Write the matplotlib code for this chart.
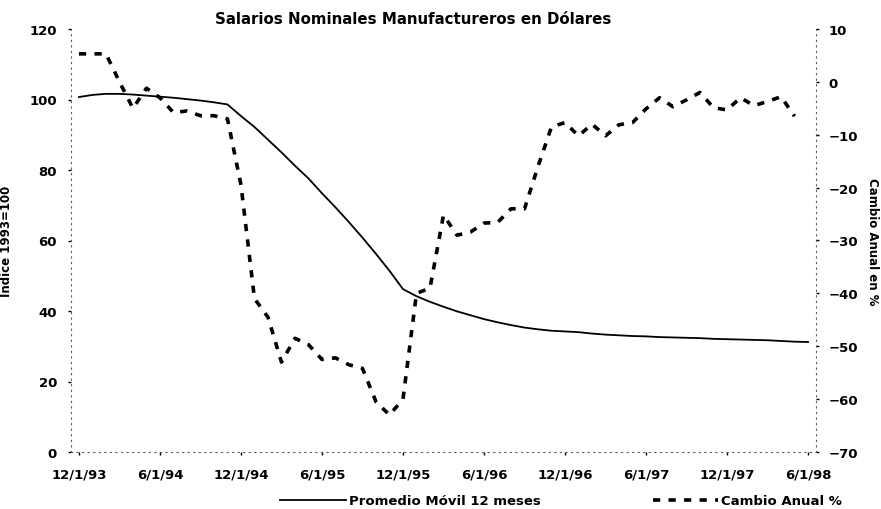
import matplotlib
matplotlib.use("Agg")
import matplotlib.pyplot as plt
import numpy as np

# etiquetas del eje x (cada 6 meses, dic-93 a jun-98)
etiquetas = ['12/1/93', '6/1/94', '12/1/94', '6/1/95', '12/1/95',
             '6/1/96', '12/1/96', '6/1/97', '12/1/97', '6/1/98']

# Indice 1993=100, promedio movil 12 meses (mensual, dic-93 .. jun-98)
indice = [100.7, 101.3, 101.6, 101.6, 101.4, 101.1, 100.8, 100.5, 100.1, 99.7,
          99.2, 98.6, 95.3, 92.2, 88.6, 85.0, 81.2, 77.6, 73.4, 69.4,
          65.2, 60.8, 56.2, 51.4, 46.2, 44.2, 42.6, 41.2, 39.9, 38.8,
          37.7, 36.8, 36.0, 35.3, 34.8, 34.4, 34.2, 34.0, 33.6, 33.3,
          33.1, 32.9, 32.8, 32.6, 32.5, 32.4, 32.3, 32.1, 32.0, 31.9,
          31.8, 31.7, 31.5, 31.3, 31.2]

# Cambio anual % (mensual, dic-93 .. may-98)
cambio = [5.3, 5.3, 5.3, 0.0, -5.0, -1.2, -3.0, -5.8, -5.5, -6.4,
          -6.4, -7.0, -19.5, -41.0, -44.5, -53.0, -48.5, -49.7, -52.5, -52.2,
          -53.5, -54.2, -60.5, -63.0, -60.0, -40.0, -39.0, -25.2, -29.0, -28.4,
          -26.7, -26.6, -24.0, -24.0, -16.0, -8.5, -7.7, -10.2, -8.0, -10.2,
          -8.1, -7.7, -5.1, -3.0, -4.7, -3.4, -2.0, -4.9, -5.3, -3.0,
          -4.5, -3.7, -2.8, -6.5]

plt.rcParams['font.family'] = ['DejaVu Sans']
plt.rcParams['font.weight'] = 'bold'

fig = plt.figure(figsize=(8.81, 5.10), dpi=100)
ax = fig.add_axes([71 / 881, 1 - 453 / 510, 745 / 881, 423 / 510])
ax2 = ax.twinx()

x1 = np.arange(len(indice))
x2 = np.arange(len(cambio))

l1, = ax.plot(x1, indice, color='black', lw=1.3, label='Promedio Móvil 12 meses')
l2, = ax2.plot(x2, cambio, color='black', lw=2.6, dashes=(2.0, 2.3),
               label='Cambio Anual %')

ax.set_xlim(-0.59, 54.59)
ax.set_ylim(0, 120)
ax2.set_ylim(-70, 10)
ax.set_yticks(range(0, 121, 20))
ax2.set_yticks(range(-70, 11, 10))
ax.set_xticks(range(0, 55, 6))
ax.set_xticklabels(etiquetas)

for a in (ax, ax2):
    for s in a.spines.values():
        s.set_visible(False)
    a.tick_params(labelsize=9.5, length=2, width=1, colors='black')

ax.spines['left'].set_visible(True)
ax.spines['bottom'].set_visible(True)
ax2.spines['right'].set_visible(True)
for s in (ax.spines['left'], ax.spines['bottom'], ax2.spines['right']):
    s.set_linestyle((0, (1, 4)))
    s.set_linewidth(0.8)
    s.set_color('0.35')

ax.tick_params(axis='y', pad=8)
ax2.tick_params(axis='y', pad=7)
ax.tick_params(axis='x', pad=9)

ax.set_ylabel('Indice 1993=100', fontsize=8.5, fontweight='bold')
ax.yaxis.set_label_coords(-0.078, 0.5)
ax2.set_ylabel('Cambio Anual en %', fontsize=8.5, fontweight='bold', rotation=270,
               va='center')
ax2.yaxis.set_label_coords(1.0765, 0.5)

fig.text(413 / 881, 1 - 19 / 510, 'Salarios Nominales Manufactureros en Dólares',
         ha='center', va='center', fontsize=10.8, fontweight='bold')

fig.legend(handles=[l1, l2], loc='center', bbox_to_anchor=(561 / 881, 1 - 502 / 510),
           ncol=2, frameon=False, fontsize=9.5, handlelength=5,
           handletextpad=0.2, columnspacing=8.5)

fig.savefig('out.png', dpi=100)
